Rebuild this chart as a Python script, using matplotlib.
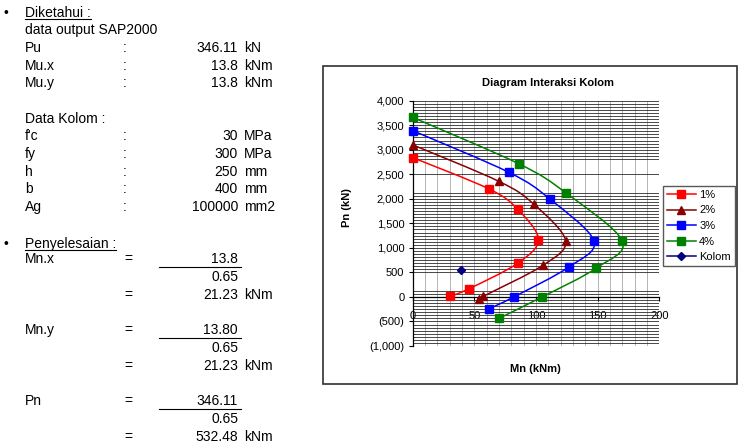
import numpy as np
import matplotlib
matplotlib.use('Agg')
import matplotlib.pyplot as plt
from matplotlib.path import Path
from matplotlib.patches import PathPatch, Rectangle
from matplotlib.lines import Line2D
from matplotlib.transforms import IdentityTransform
from matplotlib.ticker import MultipleLocator, FixedLocator, FuncFormatter

plt.rcParams['font.family'] = ['Liberation Sans', 'DejaVu Sans']

# --- data: interaction diagram (Mn in kNm, Pn in kN) ---
mn_1 = [0, 62, 85, 102, 85, 46, 30]
pn_1 = [2840, 2200, 1790, 1170, 685, 170, 10]
mn_2 = [0, 70, 98, 124, 106, 57, 54]
pn_2 = [3100, 2355, 1895, 1150, 650, 10, -40]
mn_3 = [0, 78, 111, 147, 127, 82, 62]
pn_3 = [3390, 2540, 2000, 1140, 615, 0, -240]
mn_4 = [0, 86, 124, 170, 149, 105, 70]
pn_4 = [3660, 2715, 2125, 1140, 590, 0, -435]
kolom_mn = [39]
kolom_pn = [550]

x_ticks = [0, 50, 100, 150, 200]
y_ticks = [-1000, -500, 0, 500, 1000, 1500, 2000, 2500, 3000, 3500, 4000]

# --- data: text on the left ---
known_labels = ['Pu', 'Mu.x', 'Mu.y']
known_values = ['346.11', '13.8', '13.8']
known_units = ['kN', 'kNm', 'kNm']
kolom_labels = ["f'c", 'fy', 'h', 'b', 'Ag']
kolom_values = ['30', '300', '250', '400', '100000']
kolom_units = ['MPa', 'MPa', 'mm', 'mm', 'mm2']
calc_labels = ['Mn.x', 'Mn.y', 'Pn']
calc_num = ['13.8', '13.80', '346.11']
calc_den = ['0.65', '0.65', '0.65']
calc_res = ['21.23', '21.23', '532.48']
calc_units = ['kNm', 'kNm', 'kNm']

W, H = 744, 445
fig = plt.figure(figsize=(W / 100, H / 100), dpi=100)
fig.patch.set_facecolor('white')


def fx(x):
    return x / W


def fy(y):
    return 1 - y / H


def txt(x, y, s, **kw):
    kw.setdefault('fontsize', 10)
    kw.setdefault('va', 'center')
    return fig.text(fx(x), fy(y), s, **kw)


renderer = fig.canvas.get_renderer()


def underline(t, y):
    bb = t.get_window_extent(renderer)
    fig.add_artist(Line2D([bb.x0, bb.x1], [H - y, H - y], color='black',
                          lw=0.8, transform=IdentityTransform()))


# left column
txt(4, 13, '\u2022')
t = txt(25, 13, 'Diketahui :')
underline(t, 19)
txt(25, 30, 'data output SAP2000')
for i, (lab, val, unit) in enumerate(zip(known_labels, known_values, known_units)):
    y = 48 + i * 17.6
    txt(25, y, lab)
    txt(125, y, ':', ha='center')
    txt(238, y, val, ha='right')
    txt(244, y, unit)

txt(25, 119, 'Data Kolom :')
for i, (lab, val, unit) in enumerate(zip(kolom_labels, kolom_values, kolom_units)):
    y = 136.5 + i * 17.6
    txt(25, y, lab)
    txt(125, y, ':', ha='center')
    txt(238, y, val, ha='right')
    txt(244, y, unit)

txt(4, 244, '\u2022')
t = txt(25, 244, 'Penyelesaian :')
underline(t, 250)
for i in range(3):
    y0 = 259 + i * 71.2
    txt(25, y0, calc_labels[i])
    txt(128, y0, '=', ha='center')
    txt(238, y0, calc_num[i], ha='right')
    fig.add_artist(Line2D([159, 241], [H - y0 - 8, H - y0 - 8], color='black',
                          lw=0.8, transform=IdentityTransform()))
    txt(238, y0 + 18, calc_den[i], ha='right')
    txt(128, y0 + 36, '=', ha='center')
    txt(238, y0 + 36, calc_res[i], ha='right')
    txt(244, y0 + 36, calc_units[i])

# chart frame
fig.add_artist(Rectangle((fx(323), fy(384)), 414 / W, 318 / H, transform=fig.transFigure,
                         facecolor='none', edgecolor='#303030', lw=1.2))

ax = fig.add_axes([fx(412.7), fy(346), 246.6 / W, 245.3 / H])
ax.set_xlim(0, 200)
ax.set_ylim(-1000, 4000)


def smooth_path(x, y):
    p = np.column_stack([x, y]).astype(float)
    n = len(p)
    verts = [p[0]]
    codes = [Path.MOVETO]
    for i in range(n - 1):
        p0 = p[i - 1] if i > 0 else p[i]
        p3 = p[i + 2] if i + 2 < n else p[i + 1]
        verts += [p[i] + (p[i + 1] - p0) / 6, p[i + 1] - (p3 - p[i]) / 6, p[i + 1]]
        codes += [Path.CURVE4] * 3
    return Path(verts, codes)


series = [
    (mn_1, pn_1, '#ff0000', 's', '1%'),
    (mn_2, pn_2, '#880000', '^', '2%'),
    (mn_3, pn_3, '#0000ff', 's', '3%'),
    (mn_4, pn_4, '#008000', 's', '4%'),
]
handles = []
for x, y, c, m, lab in series:
    ax.add_patch(PathPatch(smooth_path(x, y), facecolor='none', edgecolor=c, lw=1.1, zorder=3))
    ax.plot(x, y, linestyle='none', marker=m, color=c, markersize=6, zorder=4, clip_on=False)
    handles.append(Line2D([], [], color=c, marker=m, markersize=6, lw=1.1))
ax.plot(kolom_mn, kolom_pn, linestyle='none', marker='D', color='#000080', markersize=4.5, zorder=4)
handles.append(Line2D([], [], color='#000080', marker='D', markersize=4.5, lw=1.1))

# grid
ax.set_xticks(x_ticks)
ax.set_yticks(y_ticks)
ax.xaxis.set_minor_locator(MultipleLocator(10))
ygrid = [v for v in np.arange(-1000, 4001, 62.5)
         if not (2620 < v < 2790 or 2140 < v < 2590 or 140 < v < 560 or v in y_ticks)]
ax.yaxis.set_minor_locator(FixedLocator(ygrid))
ax.grid(which='both', axis='x', color='#b4b4b4', lw=0.7)
ax.grid(which='both', axis='y', color='#2a2a2a', lw=0.6)
ax.set_axisbelow(True)
ax.tick_params(which='minor', length=0)
ax.tick_params(which='major', direction='out', length=3, width=0.8, labelsize=8, color='black')
ax.tick_params(axis='x', pad=7)
ax.tick_params(axis='y', pad=3)


def paren_fmt(v, pos):
    if v < 0:
        return '({:,.0f})'.format(-v)
    return '{:,.0f}'.format(v)


ax.yaxis.set_major_formatter(FuncFormatter(paren_fmt))
for s in ['top', 'right']:
    ax.spines[s].set_visible(False)
ax.spines['bottom'].set_position(('data', 0))
ax.spines['bottom'].set_linewidth(0.9)
ax.spines['left'].set_linewidth(0.9)

txt(548, 83, 'Diagram Interaksi Kolom', ha='center', fontsize=8, fontweight='bold')
txt(347, 208, 'Pn (kN)', ha='center', fontsize=8, fontweight='bold', rotation=90)
txt(535, 369, 'Mn (kNm)', ha='center', fontsize=8, fontweight='bold')

leg = ax.legend(handles, ['1%', '2%', '3%', '4%', 'Kolom'], loc='upper left',
                bbox_to_anchor=(fx(663), fy(186)), bbox_transform=fig.transFigure,
                frameon=True, fancybox=False, edgecolor='#303030', fontsize=8,
                handlelength=2.6, handletextpad=0.3, labelspacing=0.5,
                borderpad=0.35, borderaxespad=0)
leg.get_frame().set_linewidth(1.0)

fig.savefig('out.png', dpi=100, facecolor='white')
